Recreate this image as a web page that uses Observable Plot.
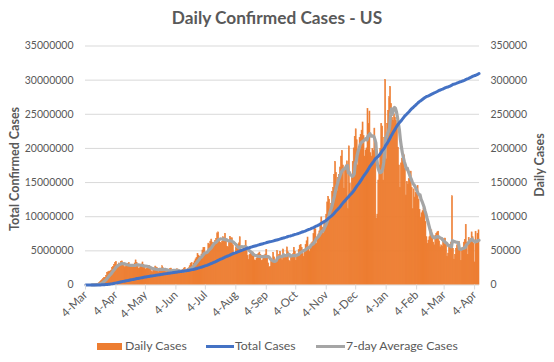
<!DOCTYPE html>
<html><head><meta charset="utf-8">
<script src="https://cdn.jsdelivr.net/npm/d3@7"></script>
<script src="https://cdn.jsdelivr.net/npm/@observablehq/plot@0.6"></script>
<style>
body{margin:0;background:#fff;}
#wrap{position:relative;width:554px;height:362px;font-family:Lato,sans-serif;color:#595959;overflow:hidden;background:#fff;}
#wrap svg{position:absolute;left:0;top:0;}
.t{position:absolute;white-space:nowrap;line-height:1;}
</style></head><body><div id="wrap"></div>
<script>
// ---- data (daily confirmed cases, US) ----
const startDate = "2020-03-04";
const endDate = "2021-04-08";
const mar2020 = [30,60,70,100,120,180,280,400,450,650,700,950,1500,1900,2900,4700,5800,7100,8500,10500,10500,12900,17800,18500,19500,19600,21000,25000];
const apr2020 = [26500,29500,32000,33500,26500,29500,31500,31000,34000,34500,30500,27500,25500,27000,29000,31000,32000,29500,27000,26500,25500,28500,31500,36000,32500,26500,23500,24500,28000,30000];
const may2020 = [33000,29500,25500,22500,23500,24500,28000,27500,25500,20000,18500,22500,21000,27000,25500,24500,18500,22500,20500,22500,27500,24500,22500,19500,18500,19500,19500,21500,23500,24000,20500];
const jun2020 = [21000,20500,20000,21500,23000,22500,18500,17500,18500,21000,22000,24000,25000,21000,19500,23500,24500,27500,31000,32000,27000,31500,34500,37500,39500,45500,43000,41500,39500,44500];
const jul2020 = [50500,54000,54500,45500,44000,48500,60500,58500,63500,66500,62000,58000,61500,64500,67500,75500,77000,64000,62000,61000,63000,70000,68500,75000,65000,56000,55000,63000,70500,68000,68500];
const aug2020 = [58000,47000,46500,55000,52500,58500,61000,70000,47500,48500,52000,55500,52000,64500,51500,42500,36500,44000,46500,47000,47500,46000,36000,35500,38500,44000,45500,47500,44000,35000,36000];
const sep2020 = [41500,41000,44500,51500,42500,31500,25500,26500,34000,36500,47000,40500,34500,35000,49500,38500,44000,48500,42500,36000,52000,39000,39500,44000,55000,48000,35500,33500,43000,41500];
const oct2020 = [45000,54500,48500,35500,41000,44000,51000,57500,58500,54000,45500,41000,51500,58500,64000,69500,55000,48500,58500,61000,62500,74500,83000,81500,60000,66500,74000,78500,90000,99000,84000];
const nov2020 = [74500,93000,92500,103000,121000,129000,125000,105000,119000,136000,142000,161000,180000,164000,137000,157000,161000,172000,188000,196000,175000,141000,170000,175000,181000,111000,203000,148000,137000,159000];
const dec2020 = [180000,200000,217000,228000,212000,175000,190000,215000,220000,226000,238000,218000,188000,197000,200000,258000,236000,254000,193000,188000,199000,196000,229000,198000,97000,103000,153000,175000,199000,236000,232000];
const jan2021 = [153000,215000,300000,184000,236000,255000,275000,290000,265000,245000,240000,250000,245000,240000,235000,201000,175000,142000,178000,185000,193000,190000,170000,131000,151000,147000,155000,165000,166000,142000,111000];
const feb2021 = [140000,128000,135000,140000,145000,125000,110000,98000,105000,108000,112000,104000,92000,70000,60000,65000,70000,76000,80000,72000,62000,58000,72000,75000,77000,78000,64000,55000];
const mar2021 = [58000,56000,66000,67000,68000,59000,41000,46000,57000,59000,62000,130000,53000,37000,44000,53000,58000,61000,63000,51000,35000,53000,54000,62000,66000,88000,62000,44000,69000,65000,67000];
const apr2021 = [77000,70000,60000,33000,78000,62000,75000,80000];

const seriesNames = ["Daily Cases", "Total Cases", "7-day Average Cases"];
const seriesColors = ["#ED7D31", "#4472C4", "#A5A5A5"];
const titleText = "Daily Confirmed Cases - US";
const leftTitle = "Total Confirmed Cases";
const rightTitle = "Daily Cases";
const yTicks = [0,50000,100000,150000,200000,250000,300000,350000];

// ---- derived table ----
const daily = [].concat(mar2020,apr2020,may2020,jun2020,jul2020,aug2020,sep2020,oct2020,nov2020,dec2020,jan2021,feb2021,mar2021,apr2021);
const t0 = new Date(startDate + "T00:00:00Z");
const totals = Array.from(d3.cumsum(daily));
const rows = daily.map((v, i) => {
  const date = d3.utcDay.offset(t0, i);
  return {
    date, next: d3.utcDay.offset(date, 1), mid: d3.utcHour.offset(date, 12),
    daily: v, total: totals[i],
    avg: i >= 6 ? d3.mean(daily.slice(i - 6, i + 1)) : null
  };
});
const xTicks = d3.range(14).map(i => new Date(Date.UTC(2020, 2 + i, 4)));
const xDomain = [t0, d3.utcDay.offset(new Date(endDate + "T00:00:00Z"), 1)];
const ratio = 100; // left axis = right axis * 100

const chart = Plot.plot({
  width: 554, height: 362,
  marginLeft: 85, marginRight: 75, marginTop: 45.5, marginBottom: 77.5,
  style: {fontFamily: "Lato, sans-serif", fontSize: "10.5px", color: "#595959", background: "transparent"},
  x: {type: "utc", domain: xDomain},
  y: {domain: [0, 350000]},
  marks: [
    Plot.gridY(yTicks.slice(1), {stroke: "#d9d9d9", strokeOpacity: 1}),
    Plot.rectY(rows, {x1: "date", x2: "next", y: "daily", fill: seriesColors[0], stroke: seriesColors[0], strokeWidth: 0.6}),
    Plot.ruleY([0], {stroke: "#d9d9d9"}),
    Plot.line(rows.filter(d => d.avg != null), {x: "mid", y: "avg", stroke: seriesColors[2], strokeWidth: 3.2}),
    Plot.line(rows, {x: "mid", y: d => d.total / ratio, stroke: seriesColors[1], strokeWidth: 3}),
    Plot.axisX({ticks: xTicks, tickFormat: d3.utcFormat("%-d-%b"), tickRotate: -45, tickSize: 5, tickPadding: 3, stroke: "#d9d9d9", fontSize: "11.5px", label: null}),
    Plot.axisY({anchor: "left", ticks: yTicks, tickFormat: d => String(d * ratio), tickSize: 0, tickPadding: 12, label: null}),
    Plot.axisY({anchor: "right", ticks: yTicks, tickFormat: d => String(d), tickSize: 0, tickPadding: 11, label: null})
  ]
});

const wrap = document.getElementById("wrap");
wrap.appendChild(chart);

function addText(txt, css) {
  const el = document.createElement("div");
  el.className = "t";
  el.textContent = txt;
  Object.assign(el.style, css);
  wrap.appendChild(el);
  return el;
}
addText(titleText, {left: "0px", width: "554px", textAlign: "center", top: "9px", fontSize: "17.3px", fontWeight: "bold"});
addText(leftTitle, {left: "15px", top: "169px", fontSize: "12.5px", fontWeight: "bold", transform: "translate(-50%,-50%) rotate(-90deg)"});
addText(rightTitle, {left: "540px", top: "165px", fontSize: "12.5px", fontWeight: "bold", transform: "translate(-50%,-50%) rotate(-90deg)"});

// legend
function addBox(css) {
  const el = document.createElement("div");
  el.style.position = "absolute";
  Object.assign(el.style, css);
  wrap.appendChild(el);
}
addBox({left: "97px", top: "343px", width: "25px", height: "7px", background: seriesColors[0]});
addText(seriesNames[0], {left: "125px", top: "340px", fontSize: "12.3px"});
addBox({left: "206px", top: "345px", width: "28px", height: "3px", background: seriesColors[1]});
addText(seriesNames[1], {left: "235px", top: "340px", fontSize: "12.3px"});
addBox({left: "316px", top: "345px", width: "29px", height: "3px", background: seriesColors[2]});
addText(seriesNames[2], {left: "346px", top: "340px", fontSize: "12.3px"});
</script>
</body></html>
